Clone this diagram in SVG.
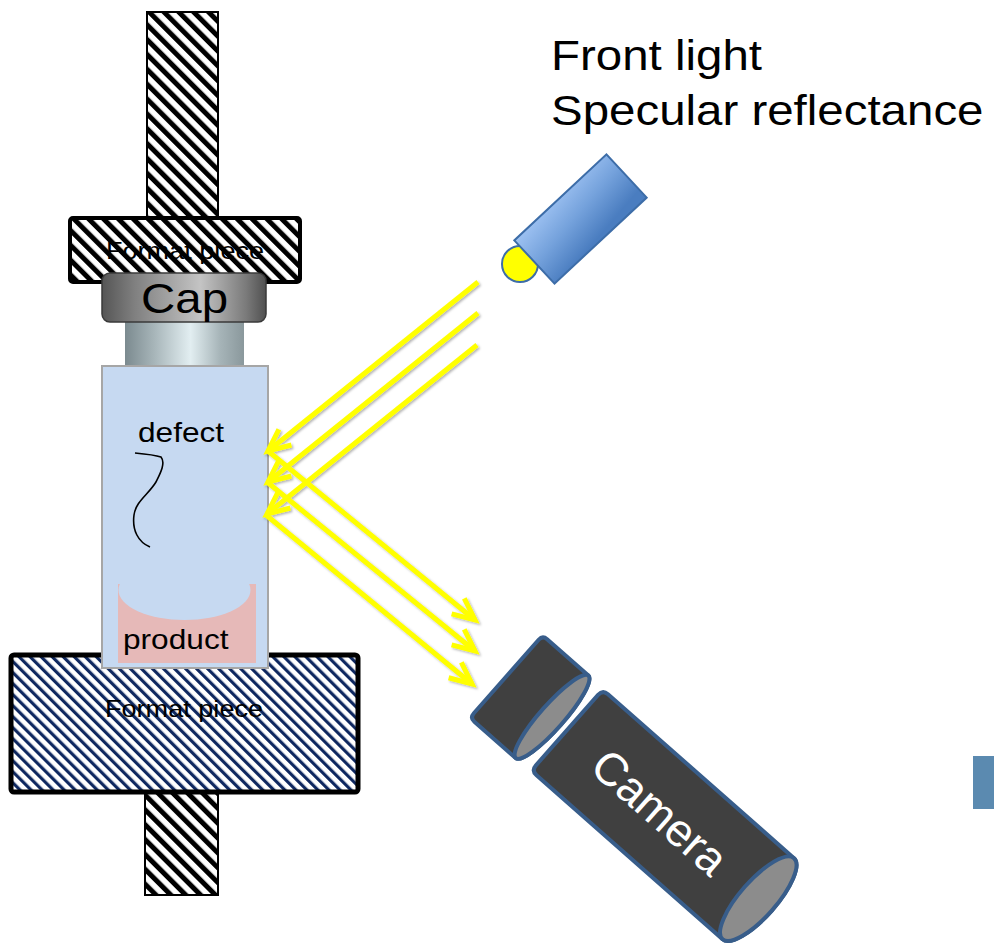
<svg xmlns="http://www.w3.org/2000/svg" width="994" height="944" viewBox="0 0 994 944">
  <defs>
    <style>
      text { font-family: "Liberation Sans", Arial, sans-serif; fill: #000; }
      .ray { fill: none; stroke: #FFFF00; stroke-width: 5; stroke-linecap: butt; marker-end: url(#chevron); }
      .shaft { stroke: #000; stroke-width: 2; fill: url(#hatchBlack); }
    </style>
    <!-- wide downward diagonal hatch, black -->
    <pattern id="hatchBlack" width="10.5" height="10.5" patternUnits="userSpaceOnUse" patternTransform="rotate(-45)">
      <rect width="10.5" height="10.5" fill="#fff"/>
      <rect width="5" height="10.5" fill="#000"/>
    </pattern>
    <!-- finer diagonal hatch, navy -->
    <pattern id="hatchNavy" width="7.8" height="7.8" patternUnits="userSpaceOnUse" patternTransform="rotate(-45)">
      <rect width="7.8" height="7.8" fill="#fff"/>
      <rect width="3.2" height="7.8" fill="#0F2860"/>
    </pattern>
    <linearGradient id="capGrad" x1="0" y1="0" x2="1" y2="0">
      <stop offset="0" stop-color="#555"/>
      <stop offset="0.2" stop-color="#808080"/>
      <stop offset="0.6" stop-color="#c4c4c4"/>
      <stop offset="0.88" stop-color="#7a7a7a"/>
      <stop offset="1" stop-color="#505050"/>
    </linearGradient>
    <linearGradient id="neckGrad" x1="0" y1="0" x2="1" y2="0">
      <stop offset="0" stop-color="#7b8a8f"/>
      <stop offset="0.25" stop-color="#a8b6ba"/>
      <stop offset="0.55" stop-color="#e2eef1"/>
      <stop offset="0.8" stop-color="#a6b4b8"/>
      <stop offset="1" stop-color="#8a989c"/>
    </linearGradient>
    <linearGradient id="lampGrad" x1="0" y1="0" x2="0.25" y2="1">
      <stop offset="0" stop-color="#9EC2F2"/>
      <stop offset="0.5" stop-color="#75A2DC"/>
      <stop offset="1" stop-color="#4A7DC0"/>
    </linearGradient>
    <marker id="chevron" markerUnits="userSpaceOnUse" markerWidth="40" markerHeight="40" refX="0" refY="0" orient="auto" overflow="visible">
      <path d="M -22 -10 L 0 0 L -22 10" fill="none" stroke="#FFFF00" stroke-width="5" stroke-linejoin="miter"/>
    </marker>
    <filter id="raySoft" x="-10%" y="-10%" width="120%" height="120%">
      <feDropShadow dx="1.5" dy="1.5" stdDeviation="1" flood-color="#000" flood-opacity="0.3"/>
    </filter>
  </defs>

  <rect width="994" height="944" fill="#fff"/>

  <!-- upper format piece with shaft -->
  <g id="format-top">
    <rect class="shaft" x="147" y="12" width="71" height="208"/>
    <rect x="70" y="218" width="230" height="64" rx="3" fill="url(#hatchBlack)" stroke="#000" stroke-width="4"/>
    <g transform="translate(185 259) scale(1.13 1)"><text x="0" y="0" font-size="24" text-anchor="middle">Format piece</text></g>
  </g>

  <!-- lower format piece with shaft -->
  <g id="format-bottom">
    <rect class="shaft" x="145" y="792" width="73" height="103"/>
    <rect x="11" y="655" width="347" height="137" rx="3" fill="url(#hatchNavy)" stroke="#000" stroke-width="5"/>
    <g transform="translate(184 717) scale(1.13 1)"><text x="0" y="0" font-size="24" text-anchor="middle">Format piece</text></g>
  </g>

  <!-- vial body with product and defect -->
  <g id="vial">
    <rect x="102" y="366" width="166" height="302" fill="#C6D9F1" stroke="#A6A6A6" stroke-width="2"/>
    <rect x="118" y="584" width="138" height="79" fill="#E6B9B8"/>
    <ellipse cx="184.5" cy="590" rx="66" ry="30" fill="#C6D9F1"/>
    <rect x="118" y="560" width="138" height="24" fill="#C6D9F1"/>
    <path d="M135 453 C146 454 155 455 161 457 C166 463 160 474 156 482 C148 495 136 501 134 515 C132 530 138 542 150 547" fill="none" stroke="#000" stroke-width="1.6"/>
    <g transform="translate(138 442) scale(1.13 1)"><text x="0" y="0" font-size="28">defect</text></g>
    <g transform="translate(123 649) scale(1.13 1)"><text x="0" y="0" font-size="28">product</text></g>
  </g>

  <!-- neck and cap -->
  <g id="neck">
    <rect x="125" y="322" width="119" height="43" fill="url(#neckGrad)"/>
  </g>
  <g id="cap">
    <rect x="102" y="273" width="164" height="49" rx="8" fill="url(#capGrad)" stroke="#3a3a3a" stroke-width="1.5"/>
    <g transform="translate(184.5 313) scale(1.13 1)"><text x="0" y="0" font-size="42" text-anchor="middle">Cap</text></g>
  </g>

  <!-- front light -->
  <g id="front-light">
    <circle cx="520" cy="264" r="18" fill="#FFFF00" stroke="#3D6DA8" stroke-width="2"/>
    <g transform="translate(580.5 219) rotate(-43)">
      <rect x="-63" y="-29.5" width="126" height="59" fill="url(#lampGrad)" stroke="#3D6DA8" stroke-width="2"/>
    </g>
  </g>

  <g id="title">
    <g transform="translate(551 70) scale(1.13 1)"><text x="0" y="0" font-size="42">Front light</text></g>
    <g transform="translate(551 125) scale(1.13 1)"><text x="0" y="0" font-size="42">Specular reflectance</text></g>
  </g>

  <!-- light rays: incident and reflected -->
  <g id="rays" filter="url(#raySoft)">
    <line class="ray" x1="478" y1="282" x2="268" y2="451"/>
    <line class="ray" x1="478" y1="313" x2="268" y2="482"/>
    <line class="ray" x1="477" y1="345" x2="267" y2="514"/>
    <line class="ray" x1="268" y1="451" x2="475" y2="620"/>
    <line class="ray" x1="267" y1="482" x2="475" y2="651"/>
    <line class="ray" x1="266" y1="515" x2="472" y2="684"/>
  </g>

  <!-- camera -->
  <g id="camera" transform="translate(529.5 697) rotate(41.4)">
    <path d="M -25 -55 L 30 -55 A 12 55 0 0 1 30 55 L -25 55 Q -31 55 -31 49 L -31 -49 Q -31 -55 -25 -55 Z" fill="#404040" stroke="#385D8A" stroke-width="4" stroke-linejoin="round"/>
    <ellipse cx="30" cy="0" rx="12" ry="55" fill="#8C8C8C" stroke="#385D8A" stroke-width="4"/>
    <path d="M 57 -54 L 305 -54 A 18 54 0 0 1 305 54 L 57 54 Q 50 54 50 47 L 50 -47 Q 50 -54 57 -54 Z" fill="#404040" stroke="#385D8A" stroke-width="4" stroke-linejoin="round"/>
    <ellipse cx="305" cy="0" rx="18" ry="54" fill="#8C8C8C" stroke="#385D8A" stroke-width="4"/>
    <text x="174" y="16" font-size="46" text-anchor="middle" style="fill:#fff">Camera</text>
  </g>

  <!-- partly visible panel at the right border -->
  <rect x="973" y="756" width="21" height="53" fill="#5B8AB0"/>
</svg>
